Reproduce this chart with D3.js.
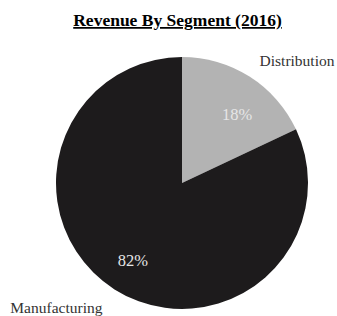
<!DOCTYPE html>
<html>
<head>
<meta charset="utf-8">
<script src="https://cdn.jsdelivr.net/npm/d3@7"></script>
<style>
  body { margin: 0; background: #fff; }
  text { font-family: "Liberation Serif", "Times New Roman", serif; }
</style>
</head>
<body>
<script>
/* Revenue share by segment, 2016 */
var segments = ["Distribution", "Manufacturing"];
var shares = [18, 82];
var title = "Revenue By Segment (2016)";

var width = 337,
    height = 316;
var cx = 182, cy = 183, radius = 126;

var svg = d3.select("body").append("svg")
    .attr("width", width)
    .attr("height", height);

var color = d3.scaleOrdinal()
    .domain(segments)
    .range(["#b3b3b3", "#1d1b1c"]);

var pie = d3.pie().sort(null).value(function(d) { return d; });
var arcs = pie(shares);

var arc = d3.arc().innerRadius(0).outerRadius(radius);
var pctArc = d3.arc().innerRadius(90).outerRadius(90);
var nameArc = d3.arc().innerRadius(141).outerRadius(141);

var g = svg.append("g").attr("transform", "translate(" + cx + "," + cy + ")");

g.selectAll("path")
    .data(arcs)
    .enter()
    .append("path")
    .attr("d", arc)
    .attr("fill", function(d, i) { return color(segments[i]); });

// percent labels inside slices
g.selectAll("text.pct")
    .data(arcs)
    .enter()
    .append("text")
    .attr("class", "pct")
    .attr("transform", function(d) { return "translate(" + pctArc.centroid(d) + ")"; })
    .attr("dx", function(d, i) { return i == 0 ? 7 : -1; })
    .attr("dy", function(d, i) { return i == 0 ? 13 : 7; })
    .attr("text-anchor", "middle")
    .attr("font-size", 16.5)
    .attr("fill", "#e6e6e6")
    .text(function(d) { return d.data + "%"; });

// segment names outside
g.selectAll("text.name")
    .data(arcs)
    .enter()
    .append("text")
    .attr("class", "name")
    .attr("transform", function(d) { return "translate(" + nameArc.centroid(d) + ")"; })
    .attr("dx", function(d, i) { return i == 0 ? 2 : -4; })
    .attr("dy", function(d, i) { return i == 0 ? 2 : 11; })
    .attr("text-anchor", function(d, i) { return i == 0 ? "start" : "end"; })
    .attr("font-size", 15.5)
    .attr("fill", "#333")
    .text(function(d, i) { return segments[i]; });

svg.append("text")
    .attr("x", 177.5)
    .attr("y", 26)
    .attr("text-anchor", "middle")
    .attr("font-size", 17.5)
    .attr("font-weight", "bold")
    .attr("text-decoration", "underline")
    .attr("fill", "#000")
    .text(title);
</script>
</body>
</html>
